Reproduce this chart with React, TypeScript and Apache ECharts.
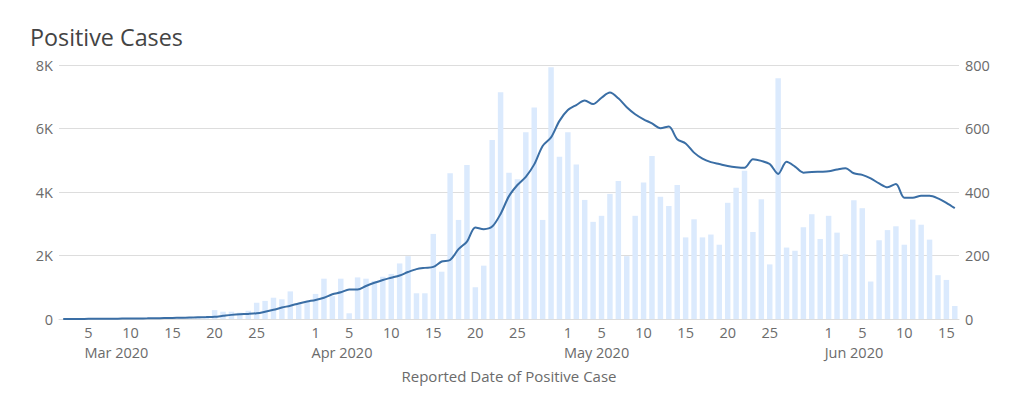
import React, { useEffect, useRef } from "react";
import * as echarts from "echarts";

const START_DATE = "2020-03-02";
const DAY_COUNT = 107;

// Daily positive cases (bars, left axis)
const dailyCases = [
  0, 0, 1, 2, 3, 5, 4, 12, 8, 10, 15, 18, 20, 25, 30, 45, 60, 75,
  280, 230, 230, 200, 260, 510, 570, 670, 620, 870, 490, 550,
  790, 1270, 720, 1270, 180, 1310, 1270, 1200, 1330, 1420,
  1750, 1980, 810, 810, 2680, 1490, 4590, 3120, 4850, 1000,
  1680, 5640, 7140, 4610, 4400, 5880, 6660, 3120, 7930, 5110,
  5880, 4870, 3750, 3060, 3250, 3940, 4350, 1980, 3250, 4300,
  5130, 3850, 3560, 4220, 2570, 3140, 2570, 2660, 2340, 3660,
  4130, 4670, 2740, 3770, 1720, 7580, 2250, 2150, 2890, 3300, 2520,
  3250, 2720, 2040, 3740, 3490, 1180, 2480, 2800, 2920, 2340,
  3130, 2970, 2500, 1380, 1230, 410,
];

// Line series (right axis)
const lineValues = [
  0, 0, 0.2, 0.4, 0.6, 0.8, 1, 1.3, 1.5, 1.8, 2.1, 2.5, 3, 3.5, 4, 4.6, 5.3, 6,
  7, 10, 13, 15, 16, 18, 23, 29, 36, 42, 49, 55,
  60, 67, 78, 84, 93, 93, 104, 114, 123, 130,
  137, 148, 157, 161, 164, 181, 186, 220, 244, 288,
  283, 291, 331, 387, 422, 448, 487, 545, 572, 624,
  658, 674, 688, 677, 697, 713, 695, 667, 645, 629,
  616, 601, 606, 566, 553, 524, 505, 494, 488, 482,
  478, 476, 503, 498, 488, 457, 495, 480, 461, 463, 464,
  465, 471, 475, 459, 454, 443, 427, 415, 425, 382,
  382, 388, 388, 380, 366, 349,
];

const leftTicks = [0, 2000, 4000, 6000, 8000];
const rightTicks = [0, 200, 400, 600, 800];
const labelDays = [1, 5, 10, 15, 20, 25];
const monthNames = ["Jan", "Feb", "Mar", "Apr", "May", "Jun", "Jul", "Aug", "Sep", "Oct", "Nov", "Dec"];

function buildDates(): string[] {
  const out: string[] = [];
  const base = new Date(START_DATE + "T00:00:00Z").getTime();
  for (let i = 0; i < DAY_COUNT; i++) {
    const d = new Date(base + i * 86400000);
    out.push(d.toISOString().slice(0, 10));
  }
  return out;
}

const FONT = "Open Sans";
const LABEL_COLOR = "#6b6b6b";
const TICK_SIZE = 14.5;

export default function App() {
  const ref = useRef<HTMLDivElement>(null);
  useEffect(() => {
    if (!ref.current) return;
    const chart = echarts.init(ref.current, null, { renderer: "svg" });
    const dates = buildDates();
    const dayOf = (s: string) => parseInt(s.slice(8, 10), 10);
    const showDay = (i: number, v: string) => labelDays.indexOf(dayOf(v)) >= 0;
    const firstOfMonthIdx: Record<number, boolean> = {};
    const seenMonth: Record<string, boolean> = {};
    dates.forEach((d, i) => {
      const m = d.slice(0, 7);
      if (labelDays.indexOf(dayOf(d)) >= 0 && !seenMonth[m]) {
        seenMonth[m] = true;
        firstOfMonthIdx[i] = true;
      }
    });
    chart.setOption({
      animation: false,
      title: {
        text: "Positive Cases",
        left: 30,
        top: 25,
        padding: 0,
        textStyle: { fontFamily: FONT, fontSize: 23.3, fontWeight: "normal", color: "#444" },
      },
      grid: [
        { left: 59, top: 65, width: 900, height: 254 },
        { left: 55, top: 65, width: 900, height: 254 },
      ],
      xAxis: [
        {
          type: "category",
          gridIndex: 0,
          data: dates,
          boundaryGap: true,
          axisLine: { lineStyle: { color: "#dddddd" } },
          axisTick: {
            alignWithLabel: true,
            interval: showDay,
            length: 5,
            lineStyle: { color: "#dddddd" },
          },
          axisLabel: {
            interval: showDay,
            formatter: (v: string) => String(dayOf(v)),
            margin: 6,
            color: LABEL_COLOR,
            fontSize: TICK_SIZE,
            fontFamily: FONT,
          },
          name: "Reported Date of Positive Case",
          nameLocation: "middle",
          nameGap: 49,
          nameTextStyle: { color: LABEL_COLOR, fontSize: 15, fontFamily: FONT },
          splitLine: { show: false },
        },
        {
          type: "category",
          gridIndex: 1,
          data: dates,
          boundaryGap: true,
          axisLine: { show: false },
          axisTick: { show: false },
          splitLine: { show: false },
          axisLabel: {
            interval: (i: number) => !!firstOfMonthIdx[i],
            formatter: (v: string) => monthNames[parseInt(v.slice(5, 7), 10) - 1] + " " + v.slice(0, 4),
            margin: 26,
            align: "left",
            color: LABEL_COLOR,
            fontSize: TICK_SIZE,
            fontFamily: FONT,
          },
        },
      ],
      yAxis: [
        {
          type: "value",
          gridIndex: 0,
          min: leftTicks[0],
          max: leftTicks[leftTicks.length - 1],
          interval: leftTicks[1] - leftTicks[0],
          axisLine: { show: false },
          axisTick: { show: false },
          axisLabel: {
            formatter: (v: number) => (v === 0 ? "0" : v / 1000 + "K"),
            margin: 6,
            color: LABEL_COLOR,
            fontSize: TICK_SIZE,
            fontFamily: FONT,
          },
          splitLine: { lineStyle: { color: "#dddddd", width: 1 } },
        },
        {
          type: "value",
          gridIndex: 0,
          position: "right",
          min: rightTicks[0],
          max: rightTicks[rightTicks.length - 1],
          interval: rightTicks[1] - rightTicks[0],
          axisLine: { show: false },
          axisTick: { show: false },
          axisLabel: { margin: 6, color: LABEL_COLOR, fontSize: TICK_SIZE, fontFamily: FONT },
          splitLine: { show: false },
        },
        { type: "value", gridIndex: 1, show: false },
      ],
      series: [
        {
          type: "bar",
          name: "Daily Positive Cases",
          xAxisIndex: 0,
          yAxisIndex: 0,
          data: dailyCases,
          barWidth: "65%",
          itemStyle: { color: "#dbeafd" },
        },
        {
          type: "line",
          name: "Trend",
          xAxisIndex: 0,
          yAxisIndex: 1,
          data: lineValues,
          smooth: 0.3,
          symbol: "none",
          lineStyle: { color: "#3a6ea5", width: 2 },
          itemStyle: { color: "#3a6ea5" },
        },
      ],
    });
    return () => chart.dispose();
  }, []);
  return (
    <div
      ref={ref}
      style={{ position: "fixed", left: 0, top: 0, width: 1022, height: 395, background: "#fff" }}
    />
  );
}
